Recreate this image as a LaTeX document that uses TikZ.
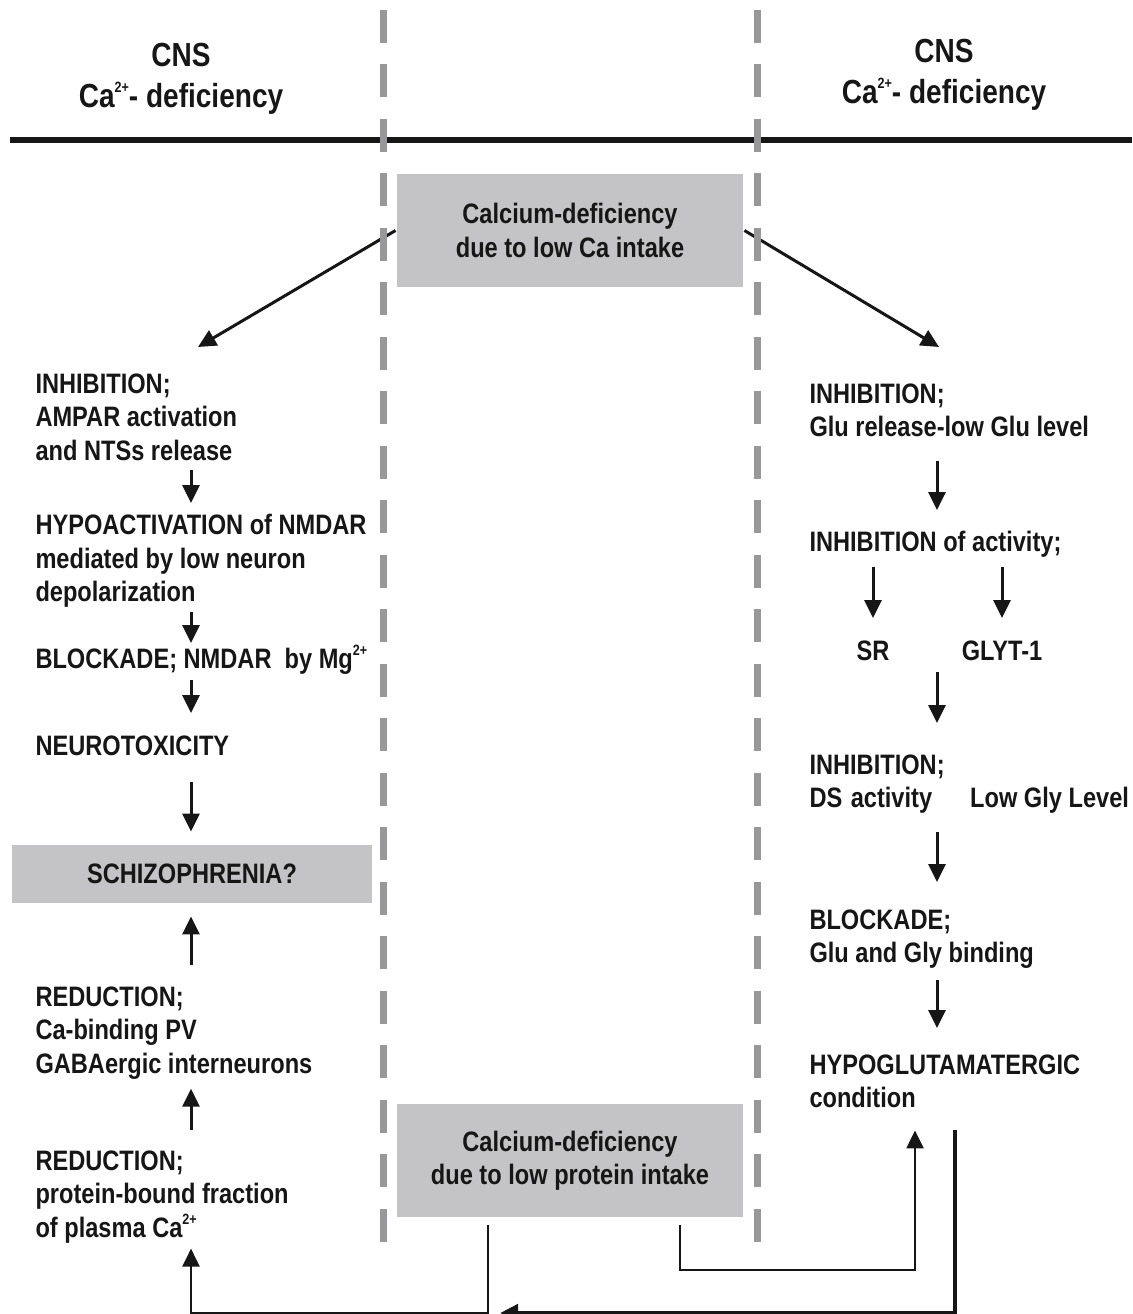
\documentclass[tikz,border=0pt]{standalone}
\usepackage{fontspec}
\setmainfont{Liberation Sans}[FakeStretch=0.84]
\usetikzlibrary{arrows.meta}
\definecolor{boxgray}{RGB}{196,196,198}
\definecolor{dashgray}{RGB}{152,152,155}
\definecolor{ink}{RGB}{22,22,22}
\newcommand{\chg}[1]{\raisebox{0.85ex}{\fontsize{8.5}{8.5}\selectfont #1}}
\begin{document}
\begin{tikzpicture}[x=0.02cm, y=-0.02cm, ink, line width=0.06cm,
  txt/.style={font=\fontsize{16}{19.1}\selectfont\bfseries, align=left, inner sep=0pt},
  head/.style={font=\fontsize{19}{23}\selectfont\bfseries, align=center, inner sep=0pt},
  grey box/.style={fill=boxgray, inner sep=0pt, minimum width=6.92cm, minimum height=2.26cm, align=center, font=\fontsize{16}{19.1}\selectfont\bfseries},
  arr/.style={-{Triangle[width=0.34cm,length=0.36cm]}},
  sep line/.style={dashgray, line width=0.14cm, dash pattern=on 0.66cm off 0.43cm}]
\useasboundingbox (0,0) rectangle (1132,1314);
\node[head] (cnsl) at (181,79) {CNS\\Ca\chg{2+}- deficiency};
\node[head] (cnsr) at (944,75) {CNS\\Ca\chg{2+}- deficiency};
\draw[line width=0.11cm] (10,140) -- (1132,140);
\node[grey box] (topbox) at (570,230.5) {Calcium-deficiency\\due to low Ca intake};
\node[grey box] (lowbox) at (570,1160.5) {Calcium-deficiency\\due to low protein intake};
\node[grey box, minimum width=7.2cm, minimum height=1.16cm] (schizo) at (192,874) {SCHIZOPHRENIA?};
\begin{scope}[every node/.style={txt}]
\node[anchor=north west] (inhl) at (34,372) {INHIBITION;\\AMPAR activation\\and NTSs release};
\node[anchor=north west] (hypo) at (34,513) {HYPOACTIVATION of NMDAR\\mediated by low neuron\\depolarization};
\node[anchor=base west] (blockl) at (34,668) {BLOCKADE; NMDAR\ \ by Mg\chg{2+}};
\node[anchor=base west] (neuro) at (34,755) {NEUROTOXICITY};
\node[anchor=north west] (redgaba) at (34,985) {REDUCTION;\\Ca-binding PV\\GABAergic interneurons};
\node[anchor=north west] (redplas) at (34,1149) {REDUCTION;\\protein-bound fraction\\of plasma Ca\chg{2+}};
\node[anchor=north west] (inhglu) at (808,382) {INHIBITION;\\Glu release-low Glu level};
\node[anchor=base west] (inhact) at (808,551) {INHIBITION of activity;};
\node[anchor=base] (sr) at (873,660) {SR};
\node[anchor=base] (glyt) at (1002,660) {GLYT-1};
\node[anchor=north west] (inhds) at (808,753) {INHIBITION;\\DS\hspace{0.17cm}activity\hspace{0.76cm}Low Gly Level};
\node[anchor=north west] (blockr) at (808,908) {BLOCKADE;\\Glu and Gly binding};
\node[anchor=north west] (hypoglu) at (808,1053) {HYPOGLUTAMATERGIC\\condition};
\end{scope}
\coordinate (axl) at (191,0);
\coordinate (axr) at (937,0);
\coordinate (tipl) at (198,347);
\coordinate (tipr) at (939,347);
\coordinate (downl) at (488,1313);
\coordinate (turnr) at (680,1270);
\coordinate (upr) at (915,0);
\coordinate (downr) at (955,1313);
\path[arr]
  (topbox.west) edge (tipl)
  (topbox.east) edge (tipr)
  (inhl.south -| axl) edge[shorten <=0.16cm, shorten >=0.2cm] (hypo.north -| axl)
  (hypo.south -| axl) edge[shorten <=0.06cm, shorten >=0.5cm] (blockl.base -| axl)
  (blockl.base -| axl) edge[shorten <=0.24cm, shorten >=0.84cm] (neuro.base -| axl)
  (neuro.base -| axl) edge[shorten <=0.54cm, shorten >=0.24cm] (schizo.north -| axl)
  (redgaba.north -| axl) edge[shorten <=0.4cm, shorten >=0.24cm] (schizo.south -| axl)
  (redplas.north -| axl) edge[shorten <=0.38cm, shorten >=0.16cm] (redgaba.south -| axl)
  (inhglu.south -| axr) edge[shorten <=0.46cm, shorten >=0.82cm] (inhact.base -| axr)
  (inhact.base -| sr) edge[shorten <=0.32cm, shorten >=0.84cm] (sr.base)
  (inhact.base -| glyt) edge[shorten <=0.32cm, shorten >=0.84cm] (glyt.base)
  (sr.base -| axr) edge[shorten <=0.24cm, shorten >=0.6cm] (inhds.north -| axr)
  (inhds.south -| axr) edge[shorten <=0.34cm, shorten >=0.52cm] (blockr.north -| axr)
  (blockr.south -| axr) edge[shorten <=0.2cm, shorten >=0.5cm] (hypoglu.north -| axr);
\draw[arr, line width=0.05cm, shorten <=0.12cm, shorten >=0.08cm] (lowbox.south -| downl) -- (downl) -| (redplas.south -| axl);
\draw[arr, line width=0.05cm, shorten <=0.12cm, shorten >=0.42cm] (lowbox.south -| turnr) -- (turnr) -| (hypoglu.south -| upr);
\draw[arr, line width=0.09cm, shorten <=0.42cm, shorten >=0.24cm] (hypoglu.south -| downr) -- (downr) -- (downl);
\draw[sep line] (383,10) -- (383,1242);
\draw[sep line] (757,10) -- (757,1242);
\end{tikzpicture}
\end{document}
